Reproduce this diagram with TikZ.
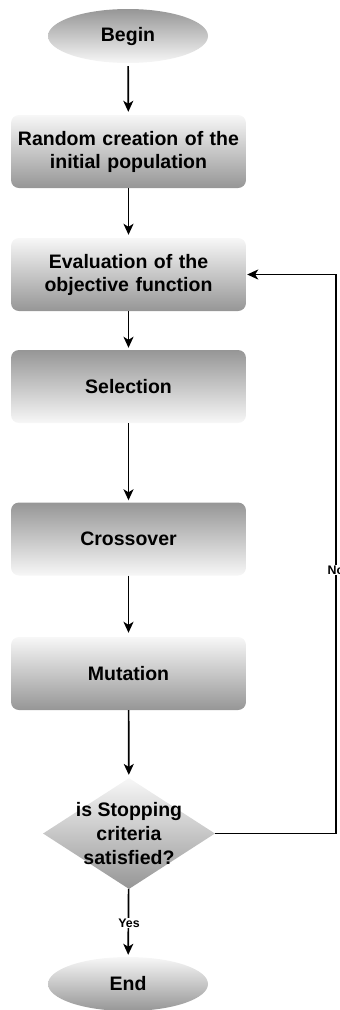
\documentclass[tikz,border=0pt]{standalone}
\usepackage{fontspec}
\setmainfont{Liberation Sans}
\usetikzlibrary{shapes.geometric,arrows.meta}

\definecolor{shadedark}{HTML}{969696}
\definecolor{shadelight}{HTML}{F7F7F7}

\tikzset{
  stepbox/.style={rectangle, rounded corners=8pt, minimum width=235pt,
    minimum height=73pt, text width=228pt, align=center, inner sep=0pt,
    font=\bfseries\fontsize{19.5}{23}\selectfont},
  lightdown/.style={top color=shadelight, bottom color=shadedark},
  darkdown/.style={top color=shadedark, bottom color=shadelight},
  terminal/.style={ellipse, minimum width=160pt, minimum height=54pt,
    inner sep=0pt, font=\bfseries\fontsize{19.5}{23}\selectfont},
  decision/.style={diamond, minimum width=172pt, minimum height=111pt,
    inner sep=0pt, top color=shadelight, bottom color=shadedark},
  arr/.style={draw=black, line width=1.7pt,
    -{Stealth[length=11pt,width=10pt,inset=3pt]}},
  edgelabel/.style={fill=white, inner sep=1pt,
    font=\bfseries\fontsize{12.4}{14}\selectfont}
}

\begin{document}
\begin{tikzpicture}[x=1pt,y=-1pt]
  \useasboundingbox (0,0) rectangle (340,1010);
  \clip (0,0) rectangle (340,1010);

  % flow nodes
  \node[terminal, darkdown] (begin) at (128,36) {Begin};
  \node[stepbox, lightdown] (init) at (128.5,151.5) {Random creation of the\\initial population};
  \node[stepbox, lightdown] (eval) at (128.5,274.5) {Evaluation of the\\objective function};
  \node[stepbox, darkdown] (sel) at (128.5,386.5) {Selection};
  \node[stepbox, darkdown] (cross) at (128.5,539) {Crossover};
  \node[stepbox, lightdown] (mut) at (128.5,673.5) {Mutation};
  \node[decision] (stop) at (129,833.5) {};
  \node[align=center, font=\bfseries\fontsize{19.5}{24}\selectfont]
    (stoptext) at (stop.center) {is Stopping\\criteria\\satisfied?};
  \node[terminal, lightdown] (end) at (128,984) {End};

  % connectors
  \draw[arr, shorten <=3pt, shorten >=3pt] (begin) -- (init);
  \draw[arr, shorten >=3pt] (init) -- (eval);
  \draw[arr, shorten >=2pt] (eval) -- (sel);
  \draw[arr, shorten >=2pt] (sel) -- (cross);
  \draw[arr, shorten >=4pt] (cross) -- (mut);
  \draw[arr, shorten >=3pt] (mut) -- (stop);
  \draw[arr, shorten >=2pt] (stop) -- (end);
  \node[edgelabel] (yes) at (129,923) {Yes};

  \coordinate (turn) at (336,833.5);
  \draw[arr, shorten >=1pt] (stop.east) -- (turn) |- (eval.east);
  \node[edgelabel] (no) at (336,570) {No};
\end{tikzpicture}
\end{document}
